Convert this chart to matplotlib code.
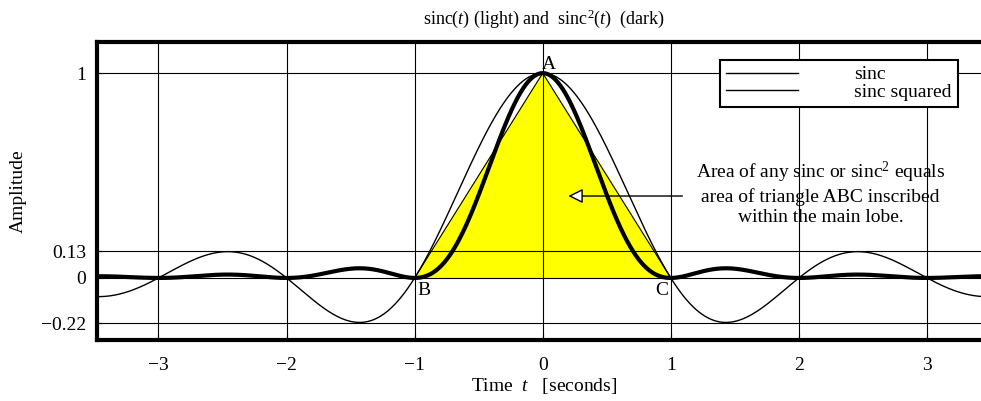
import numpy as np
import matplotlib
matplotlib.use("Agg")
import matplotlib.pyplot as plt

plt.rcParams['font.family'] = ['Liberation Serif', 'DejaVu Serif']
plt.rcParams['mathtext.fontset'] = 'custom'
plt.rcParams['mathtext.rm'] = 'Liberation Serif'
plt.rcParams['mathtext.it'] = 'Liberation Serif:italic'

# Time axis and the two curves
t_min, t_max = -3.5, 3.5
t = np.linspace(t_min, t_max, 2001)
sinc_vals = np.sinc(t)
sinc_sq_vals = np.sinc(t) ** 2

# Triangle ABC inscribed in the main lobe
tri_t = [-1, 0, 1]
tri_y = [0, 1, 0]

x_ticks = [-3, -2, -1, 0, 1, 2, 3]
x_tick_labels = ['\u22123', '\u22122', '\u22121', '0', '1', '2', '3']
y_ticks = [-0.22, 0, 0.13, 1]
y_tick_labels = ['\u22120.22', '0', '0.13', '1']

FS = 14

fig = plt.figure(figsize=(9.81, 4.01), dpi=100)
ax = fig.add_axes([97 / 981, 61 / 401, (991 - 97) / 981, (340 - 42) / 401])

ax.fill(tri_t, tri_y, color='#ffff00', zorder=1)
ax.plot(tri_t, tri_y, color='black', lw=0.8, zorder=2)

ax.plot(t, sinc_vals, color='black', lw=1.0, label='sinc', zorder=3)
ax.plot(t, sinc_sq_vals, color='black', lw=3.0, label='sinc squared', zorder=3)

ax.set_xlim(-3.48, 3.5)
ax.set_ylim(-0.303, 1.152)
ax.set_xticks(x_ticks)
ax.set_xticklabels(x_tick_labels)
ax.set_yticks(y_ticks)
ax.set_yticklabels(y_tick_labels)
ax.grid(True, color='black', lw=0.8)
ax.set_axisbelow(False)
ax.tick_params(direction='in', length=4, labelsize=FS)
ax.tick_params(axis='x', pad=12)
ax.tick_params(axis='y', pad=8)
for s in ax.spines.values():
    s.set_linewidth(3)

ax.set_title('sinc($t$) (light) and  sinc$^2$($t$)  (dark)', fontsize=13, pad=13)
ax.set_xlabel('Time  $t$   [seconds]', fontsize=FS, labelpad=2)
ax.set_ylabel('Amplitude', fontsize=FS, labelpad=10)

# Vertex labels
ax.text(0.05, 1.0, 'A', fontsize=FS, ha='center', va='bottom', zorder=5)
ax.text(-0.98, -0.02, 'B', fontsize=FS, ha='left', va='top', zorder=5)
ax.text(0.98, -0.02, 'C', fontsize=FS, ha='right', va='top', zorder=5)

ax.annotate('', xy=(0.2, 0.40), xytext=(1.09, 0.40),
            arrowprops=dict(arrowstyle='-|>', color='black', lw=1.0,
                            fc='white', mutation_scale=22, shrinkA=0, shrinkB=0),
            zorder=6)
ax.text(2.17, 0.415,
        'Area of any sinc or sinc$^2$ equals\narea of triangle ABC inscribed\nwithin the main lobe.',
        fontsize=FS, ha='center', va='center', linespacing=1.2, zorder=6)

leg = ax.legend(loc='upper left', bbox_to_anchor=((720 - 97) / 894, (340 - 60) / 298),
                fontsize=FS, frameon=True, fancybox=False, edgecolor='black',
                handlelength=3.7, handletextpad=2.9, borderpad=0.3, labelspacing=0.0,
                borderaxespad=0.0, framealpha=1)
leg.get_frame().set_linewidth(1.5)
for line in leg.get_lines():
    line.set_linewidth(1.0)

fig.savefig('out.png', dpi=100)
